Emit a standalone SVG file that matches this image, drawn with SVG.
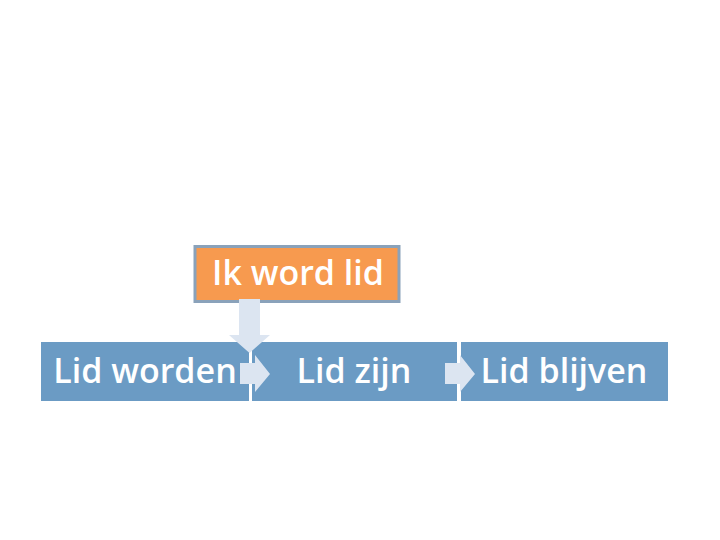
<svg xmlns="http://www.w3.org/2000/svg" width="720" height="540" viewBox="0 0 720 540">
<style>
.step{fill:#6B9BC4}
.lbl{font-family:"Open Sans","Liberation Sans",sans-serif;font-size:34px;font-weight:600;fill:#ffffff;text-anchor:middle}
.arr{fill:#DCE5F1}
</style>
<rect width="720" height="540" fill="#ffffff"/>
<g id="lid-worden">
<rect class="step" x="41" y="342" width="208" height="59"/>
<text class="lbl" x="145" y="383">Lid worden</text>
</g>
<g id="lid-zijn">
<rect class="step" x="252" y="342" width="205" height="59"/>
<text class="lbl" x="354" y="383">Lid zijn</text>
</g>
<g id="lid-blijven">
<rect class="step" x="461" y="342" width="207" height="59"/>
<text class="lbl" x="564" y="383">Lid blijven</text>
</g>
<g id="ik-word-lid">
<rect x="195" y="246.5" width="204" height="55" fill="#F79A4F" stroke="#8AA2BA" stroke-width="3"/>
<text class="lbl" x="298" y="285">Ik word lid</text>
</g>
<g id="connectors">
<polygon class="arr" points="239,299 260,299 260,335 270,335 249.5,353 229,335 239,335"/>
<polygon class="arr" points="240,363 255,363 255,355 270,374 255,392 255,384 240,384"/>
<polygon class="arr" points="445,363 460,363 460,355 475,374 460,392 460,384 445,384"/>
</g>
</svg>
